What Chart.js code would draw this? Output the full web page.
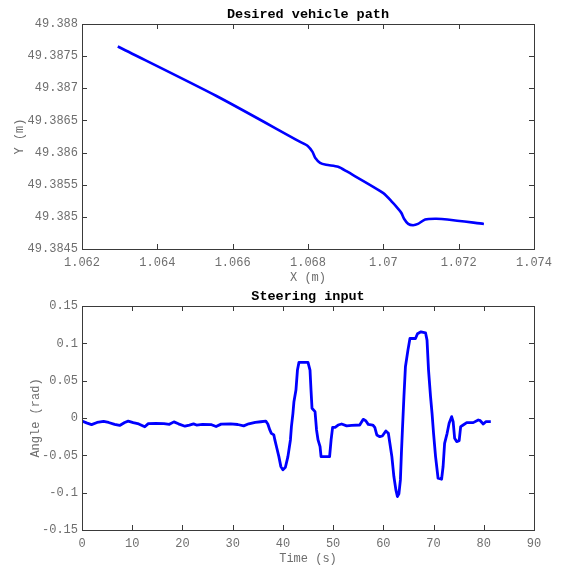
<!DOCTYPE html>
<html lang="en">
<head>
<meta charset="UTF-8">
<title>Desired vehicle path / Steering input</title>
<script src="https://cdn.jsdelivr.net/npm/chart.js"></script>
<style>
  body { margin: 0; background: #fff; }
  #wrap { position: relative; width: 566px; height: 567px; }
  .panel { position: absolute; left: 0; width: 566px; }
  #top { top: 0; height: 290px; }
  #bottom { top: 290px; height: 277px; }
</style>
</head>
<body>
<div id="wrap">
  <div class="panel" id="top"><canvas id="pathChart"></canvas></div>
  <div class="panel" id="bottom"><canvas id="steerChart"></canvas></div>
</div>
<script>
// ---- top: desired vehicle path ----
const pathX = [1.06295, 1.06557, 1.06778, 1.06800, 1.06812, 1.06820, 1.06832, 1.06848, 1.06880, 1.06902,
  1.07000, 1.07025, 1.07040, 1.07048, 1.07055, 1.07066, 1.07079, 1.07092, 1.07111, 1.07141, 1.07170, 1.07267];
const pathY = [49.38765, 49.38688, 49.38617, 49.38610, 49.38601, 49.38591, 49.38584, 49.38581, 49.38578, 49.38571,
  49.38537, 49.38522, 49.38512, 49.38506, 49.38497, 49.38489, 49.38487, 49.38489, 49.38496, 49.38497, 49.38496, 49.38489];
const pathXTicks = [1.062, 1.064, 1.066, 1.068, 1.070, 1.072, 1.074];
const pathXLabels = ["1.062", "1.064", "1.066", "1.068", "1.07", "1.072", "1.074"];
const pathYTicks = [49.3845, 49.385, 49.3855, 49.386, 49.3865, 49.387, 49.3875, 49.388];
const pathYLabels = ["49.3845", "49.385", "49.3855", "49.386", "49.3865", "49.387", "49.3875", "49.388"];

// ---- bottom: steering input ----
const timeS = [0, 0.9, 1.9, 3.0, 4.3, 5.3, 6.5, 7.5, 8.5, 9.2, 10.2, 11.3, 12.5, 13.2, 14.7, 16.3, 17.4, 18.3, 19.2, 20.5,
  21.4, 22.2, 22.8, 24.0, 25.8, 26.7, 27.7, 29.6, 31.0, 32.2, 33.2, 34.5, 35.6, 36.6, 37.0, 37.4, 37.7, 38.2, 38.4, 38.8,
  39.2, 39.6, 40.0, 40.5, 41.0, 41.5, 41.7, 42.0, 42.2, 42.6, 42.9, 43.2, 45.0, 45.4, 45.6, 45.8, 46.4, 46.7, 47.0, 47.4,
  47.6, 49.3, 49.6, 49.9, 50.4, 51.0, 51.7, 52.7, 53.7, 55.3, 56.0, 56.5, 57.0, 57.9, 58.3, 58.7, 59.3, 59.8, 60.5, 61.0,
  61.3, 61.7, 62.1, 62.5, 62.8, 63.1, 63.4, 63.6, 63.8, 64.1, 64.4, 64.9, 65.3, 66.4, 66.8, 67.5, 68.4, 68.7, 69.0, 69.4,
  69.7, 70.0, 70.4, 70.9, 71.6, 71.9, 72.2, 72.7, 73.1, 73.6, 73.9, 74.2, 74.6, 75.1, 75.4, 75.9, 76.6, 77.9, 78.9, 79.3,
  79.9, 80.4, 81.4];
const steerRad = [-0.004, -0.0065, -0.0088, -0.006, -0.0045, -0.006, -0.0085, -0.010, -0.006, -0.0042, -0.0062, -0.008, -0.0118, -0.0075, -0.0072, -0.0075, -0.0085, -0.0052, -0.0078, -0.011,
  -0.0095, -0.0078, -0.0094, -0.0085, -0.009, -0.0114, -0.0082, -0.0078, -0.0087, -0.0105, -0.0078, -0.0058, -0.005, -0.0042, -0.008, -0.016, -0.0205, -0.0227, -0.0294, -0.0405,
  -0.0517, -0.0651, -0.0695, -0.066, -0.0517, -0.0294, -0.0116, 0.0062, 0.0218, 0.0374, 0.0642, 0.0745, 0.0745, 0.0642, 0.0374, 0.013, 0.0085, -0.016, -0.0294, -0.0383,
  -0.0517, -0.0517, -0.0294, -0.0125, -0.0125, -0.0094, -0.008, -0.0105, -0.0098, -0.0094, -0.0018, -0.0036, -0.0085, -0.0094, -0.0125, -0.0227, -0.025, -0.0241, -0.0174, -0.0205,
  -0.0339, -0.0517, -0.0784, -0.0963, -0.1052, -0.1016, -0.0829, -0.0472, -0.016, 0.0285, 0.0686, 0.0909, 0.1065, 0.1065, 0.1128, 0.1154, 0.1141, 0.1043, 0.0642, 0.0285,
  0.0062, -0.0205, -0.0517, -0.0807, -0.082, -0.065, -0.0339, -0.0205, -0.0071, 0.0018, -0.0049, -0.0272, -0.0316, -0.0303, -0.0116, -0.0094, -0.0062, -0.0062, -0.0027, -0.0036,
  -0.008, -0.0049, -0.0049];
const timeTicks = [0, 10, 20, 30, 40, 50, 60, 70, 80, 90];
const timeLabels = ["0", "10", "20", "30", "40", "50", "60", "70", "80", "90"];
const angleTicks = [-0.15, -0.1, -0.05, 0, 0.05, 0.1, 0.15];
const angleLabels = ["-0.15", "-0.1", "-0.05", "0", "0.05", "0.1", "0.15"];

const MONO = '"Liberation Mono", "DejaVu Sans Mono", monospace';
const AXIS = '#3a3a3a';
const LABEL = '#6e6e6e';

// matlab style box: border on all sides, ticks pointing inwards, bold title on top
const matlabBox = {
  id: 'matlabBox',
  afterDraw(chart, args, opts) {
    const { ctx, chartArea: a, scales } = chart;
    const tl = 5;
    ctx.save();
    ctx.strokeStyle = AXIS;
    ctx.lineWidth = 1;
    ctx.beginPath();
    scales.x.ticks.forEach(t => {
      const px = Math.round(scales.x.getPixelForValue(t.value)) + 0.5;
      ctx.moveTo(px, a.bottom); ctx.lineTo(px, a.bottom - tl);
      ctx.moveTo(px, a.top); ctx.lineTo(px, a.top + tl);
    });
    scales.y.ticks.forEach(t => {
      const py = Math.round(scales.y.getPixelForValue(t.value)) + 0.5;
      ctx.moveTo(a.left, py); ctx.lineTo(a.left + tl, py);
      ctx.moveTo(a.right, py); ctx.lineTo(a.right - tl, py);
    });
    ctx.stroke();
    ctx.strokeRect(Math.round(a.left) + 0.5, Math.round(a.top) + 0.5, Math.round(a.width), Math.round(a.height));
    ctx.fillStyle = '#000';
    ctx.font = 'bold 13.5px ' + MONO;
    ctx.textAlign = 'center';
    ctx.textBaseline = 'middle';
    ctx.fillText(opts.text, (a.left + a.right) / 2, a.top - 9);
    ctx.restore();
  }
};

function makeChart(id, xs, ys, o) {
  const pts = xs.map((x, i) => ({ x: x, y: ys[i] }));
  return new Chart(document.getElementById(id), {
    type: 'scatter',
    data: {
      datasets: [{
        data: pts,
        showLine: true,
        borderColor: '#0000ff',
        borderWidth: o.lineWidth,
        borderJoinStyle: 'round',
        pointRadius: 0,
        tension: o.tension,
        fill: false
      }]
    },
    options: {
      responsive: true,
      maintainAspectRatio: false,
      animation: false,
      layout: { padding: { top: o.padTop, right: 32, left: 0, bottom: 0 } },
      plugins: {
        legend: { display: false },
        tooltip: { enabled: false },
        matlabBox: { text: o.title }
      },
      scales: {
        x: {
          type: 'linear',
          min: o.xTicks[0], max: o.xTicks[o.xTicks.length - 1],
          grid: { display: false, drawTicks: false },
          border: { display: false },
          afterBuildTicks: s => { s.ticks = o.xTicks.map(v => ({ value: v })); },
          afterFit: s => { s.height = o.xHeight; },
          ticks: {
            padding: 7,
            maxRotation: 0,
            color: LABEL,
            font: { family: MONO, size: 12 },
            callback: (v, i) => o.xLabels[i]
          },
          title: {
            display: true, text: o.xTitle, color: LABEL,
            font: { family: MONO, size: 12 },
            padding: { top: 0, bottom: o.xTitlePad }
          }
        },
        y: {
          type: 'linear',
          min: o.yTicks[0], max: o.yTicks[o.yTicks.length - 1],
          grid: { display: false, drawTicks: false },
          border: { display: false },
          afterBuildTicks: s => { s.ticks = o.yTicks.map(v => ({ value: v })); },
          afterFit: s => { s.width = 82; },
          ticks: {
            padding: 4,
            color: LABEL,
            font: { family: MONO, size: 12 },
            callback: (v, i) => o.yLabels[i]
          },
          title: {
            display: true, text: o.yTitle, color: LABEL,
            font: { family: MONO, size: 12 },
            padding: { top: o.yTitlePad, bottom: 0 }
          }
        }
      }
    },
    plugins: [matlabBox]
  });
}

makeChart('pathChart', pathX, pathY, {
  title: 'Desired vehicle path', lineWidth: 2.6, tension: 0.25, padTop: 24, xHeight: 41, xTitlePad: 5, yTitlePad: 13,
  xTicks: pathXTicks, xLabels: pathXLabels, yTicks: pathYTicks, yLabels: pathYLabels,
  xTitle: 'X (m)', yTitle: 'Y (m)'
});

makeChart('steerChart', timeS, steerRad, {
  title: 'Steering input', lineWidth: 2.8, tension: 0, padTop: 16, xHeight: 37, xTitlePad: 1, yTitlePad: 29,
  xTicks: timeTicks, xLabels: timeLabels, yTicks: angleTicks, yLabels: angleLabels,
  xTitle: 'Time (s)', yTitle: 'Angle (rad)'
});
</script>
</body>
</html>
